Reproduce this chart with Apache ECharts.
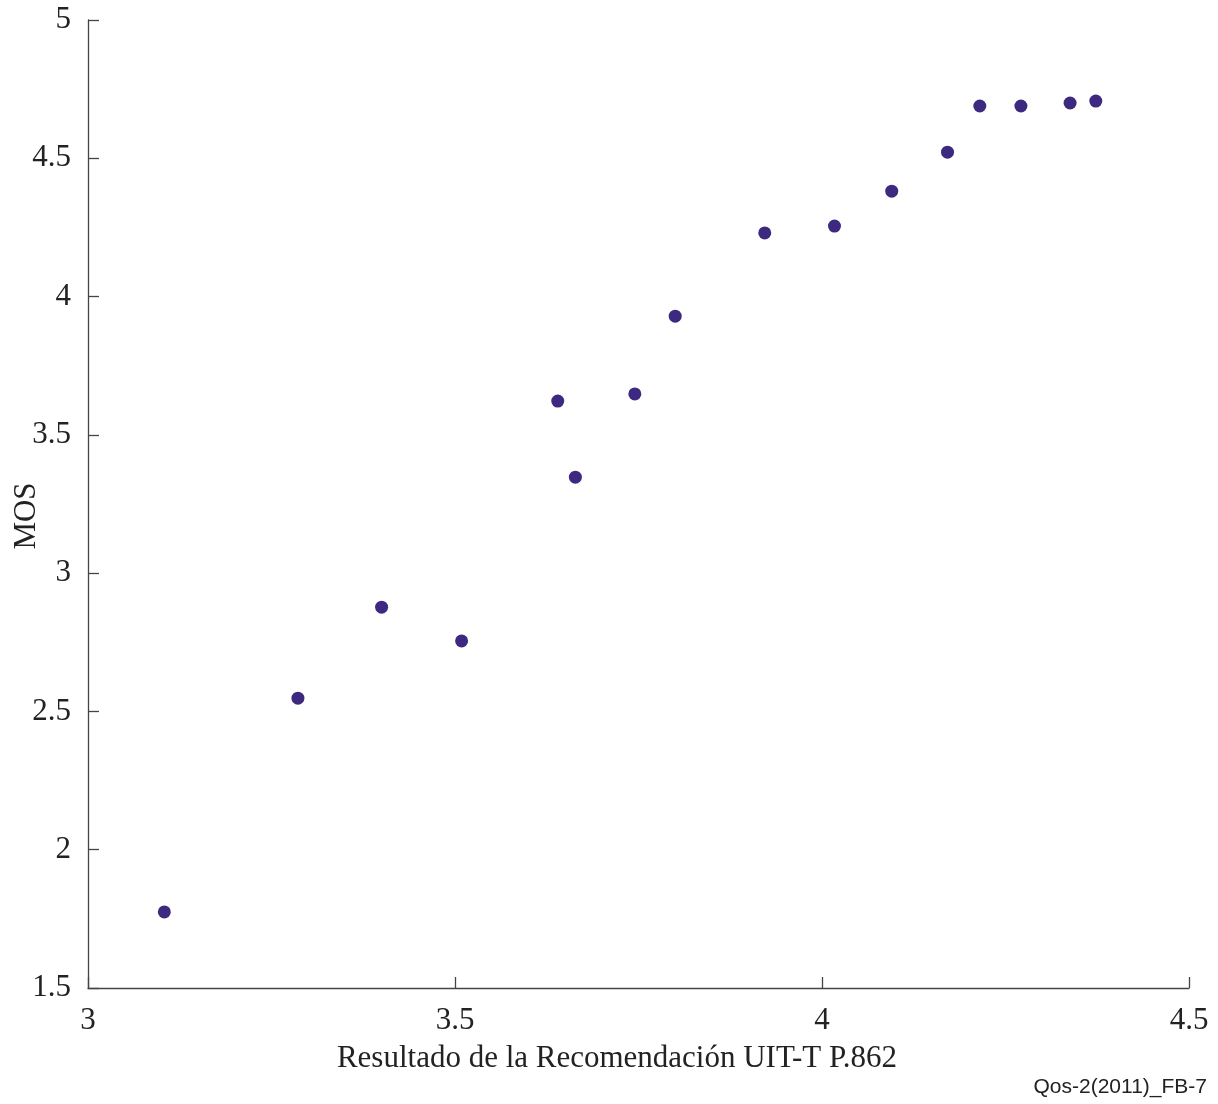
<!DOCTYPE html>
<html>
<head>
<meta charset="utf-8">
<script src="https://cdn.jsdelivr.net/npm/echarts@6/dist/echarts.min.js"></script>
<style>html,body{margin:0;padding:0;background:#fff}#c{width:1218px;height:1104px}</style>
</head>
<body>
<div id="c"></div>
<script>
const xValues = [3.104, 3.286, 3.400, 3.509, 3.640, 3.664, 3.745, 3.800, 3.922, 4.017, 4.095, 4.171, 4.215, 4.271, 4.338, 4.373];
const yValues = [1.775, 2.548, 2.877, 2.755, 3.622, 3.347, 3.648, 3.929, 4.230, 4.255, 4.381, 4.522, 4.689, 4.689, 4.700, 4.707];
const xTitle = 'Resultado de la Recomendación UIT-T P.862';
const yTitle = 'MOS';
const figId = 'Qos-2(2011)_FB-7';

const pts = xValues.map((x, i) => [x, yValues[i]]);
const chart = echarts.init(document.getElementById('c'));
const axisCol = '#444';
const serif = '"Liberation Serif", "Times New Roman", serif';
chart.setOption({
  animation: false,
  backgroundColor: '#fff',
  grid: {left: 88, right: 29, top: 20, bottom: 116},
  xAxis: {
    type: 'value', min: 3, max: 4.5, interval: 0.5,
    axisLine: {show: true, lineStyle: {color: axisCol, width: 1.3}},
    axisTick: {show: true, inside: true, length: 11, lineStyle: {color: axisCol, width: 1.3}},
    splitLine: {show: false},
    axisLabel: {color: '#222', fontFamily: serif, fontSize: 31, margin: 17, formatter: v => String(+v.toFixed(1))}
  },
  yAxis: {
    type: 'value', min: 1.5, max: 5, interval: 0.5,
    axisLine: {show: true, lineStyle: {color: axisCol, width: 1.3}},
    axisTick: {show: true, inside: true, length: 11, lineStyle: {color: axisCol, width: 1.3}},
    splitLine: {show: false},
    axisLabel: {color: '#222', fontFamily: serif, fontSize: 31, margin: 17, padding: [6, 0, 0, 0], formatter: v => String(+v.toFixed(1))}
  },
  series: [{
    type: 'scatter', data: pts, symbol: 'circle', symbolSize: 13,
    itemStyle: {color: '#3d2a80', opacity: 1}
  }],
  graphic: [
    {type: 'text', style: {text: xTitle, x: 617, y: 1059, fill: '#222', font: '31px ' + serif, textAlign: 'center', textVerticalAlign: 'middle'}},
    {type: 'text', x: 27, y: 516, rotation: Math.PI / 2, style: {text: yTitle, fill: '#222', font: '31px ' + serif, textAlign: 'center', textVerticalAlign: 'middle'}},
    {type: 'text', style: {text: figId, x: 1207, y: 1087, fill: '#222', font: '21px "Liberation Sans", Arial, sans-serif', textAlign: 'right', textVerticalAlign: 'middle'}}
  ]
});
</script>
</body>
</html>
